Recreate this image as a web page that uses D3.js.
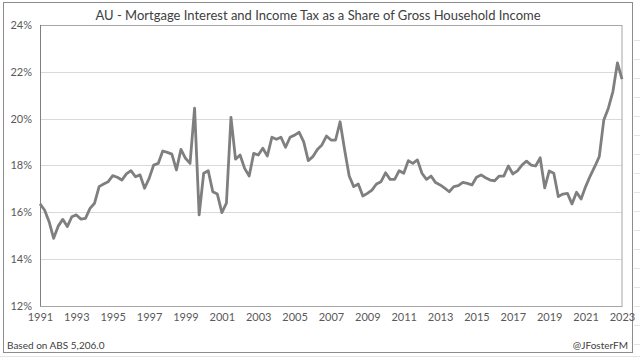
<!DOCTYPE html>
<html><head><meta charset="utf-8">
<script src="https://cdn.jsdelivr.net/npm/d3@7"></script>
<style>body{margin:0;background:#fff}svg{display:block}</style>
</head><body>
<svg id="c" width="640" height="358"></svg>
<script>
const startYear = 1991;
const quarterStep = 0.25;
const shareValues = [
16.35,16.09,15.59,14.88,
15.40,15.69,15.38,15.80,
15.88,15.70,15.73,16.16,
16.38,17.09,17.20,17.30,
17.56,17.49,17.37,17.63,
17.77,17.51,17.59,17.02,
17.44,18.01,18.08,18.61,
18.55,18.48,17.80,18.68,
18.30,18.08,20.44,15.88,
17.66,17.77,16.87,16.77,
15.98,16.38,20.05,18.26,
18.44,17.87,17.54,18.51,
18.44,18.73,18.40,19.20,
19.11,19.20,18.77,19.20,
19.29,19.41,19.00,18.20,
18.37,18.68,18.87,19.25,
19.08,19.08,19.86,18.65,
17.54,17.09,17.20,16.69,
16.80,16.94,17.20,17.30,
17.68,17.40,17.40,17.77,
17.66,18.20,18.08,18.23,
17.66,17.40,17.54,17.26,
17.16,17.02,16.87,17.09,
17.13,17.27,17.23,17.16,
17.49,17.59,17.47,17.37,
17.34,17.54,17.54,17.97,
17.63,17.76,18.01,18.18,
18.01,17.97,18.32,17.04,
17.76,17.66,16.66,16.77,
16.80,16.35,16.85,16.56,
17.09,17.54,17.94,18.37,
19.94,20.44,21.15,22.38,
21.68];
const xTickYears = [1991,1993,1995,1997,1999,2001,2003,2005,2007,2009,2011,2013,2015,2017,2019,2021,2023];
const yTicks = [12,14,16,18,20,22,24];
const titleText = "AU - Mortgage Interest and Income Tax as a Share of Gross Household Income";
const sourceText = "Based on ABS 5,206.0";
const creditText = "@JFosterFM";

const data = shareValues.map((v,i)=>({t:startYear+i*quarterStep, v}));
const svg = d3.select("#c");
const font = "Lato, 'Open Sans', sans-serif";

svg.append("rect").attr("x",0).attr("y",0).attr("width",640).attr("height",358).attr("fill","#fff");
const bg = svg.append("g").attr("stroke","#e4e4e4").attr("stroke-width",1);
[356.5].forEach(y=>bg.append("line").attr("x1",0).attr("x2",640).attr("y1",y).attr("y2",y));
d3.range(40,358,19).forEach(y=>bg.append("line").attr("x1",634).attr("x2",640).attr("y1",y+0.5).attr("y2",y+0.5));
svg.append("rect").attr("x",3.5).attr("y",2.5).attr("width",629).attr("height",350)
  .attr("fill","#fff").attr("stroke","#8c8c8c").attr("stroke-width",1);

const x = d3.scaleLinear().domain([1991,2023]).range([40,622]);
const y = d3.scaleLinear().domain([12,24]).range([305.7,24.9]);

svg.append("g").selectAll("line").data(yTicks.slice(1,-1)).join("line")
  .attr("x1",40).attr("x2",622).attr("y1",d=>Math.round(y(d))+0.5).attr("y2",d=>Math.round(y(d))+0.5)
  .attr("stroke","#d9d9d9").attr("stroke-width",1);
svg.append("rect").attr("x",40.5).attr("y",Math.round(y(24))+0.5).attr("width",581.5)
  .attr("height",Math.round(y(12))-Math.round(y(24))).attr("fill","none").attr("stroke","#a6a6a6");
svg.append("line").attr("x1",40.5).attr("x2",40.5).attr("y1",y(24)).attr("y2",y(12)+0.5).attr("stroke","#7f7f7f");

const yAxis = d3.axisLeft(y).tickValues(yTicks).tickSize(0).tickPadding(8).tickFormat(d=>d+"%");
const ga = svg.append("g").attr("transform","translate(40,0)").call(yAxis);
ga.select(".domain").remove();
ga.selectAll("text").attr("font-family",font).attr("font-size",11).attr("fill","#595959");

const xAxis = d3.axisBottom(x).tickValues(xTickYears).tickSize(0).tickPadding(8).tickFormat(d3.format("d"));
const gx = svg.append("g").attr("transform",`translate(0,${y(12)})`).call(xAxis);
gx.select(".domain").remove();
gx.selectAll("text").attr("font-family",font).attr("font-size",11).attr("fill","#595959");

const line = d3.line().x(d=>x(d.t)).y(d=>y(d.v));
svg.append("path").datum(data).attr("d",line).attr("fill","none")
  .attr("stroke","#7f7f7f").attr("stroke-width",2.8).attr("stroke-linejoin","round");

svg.append("text").attr("x",318).attr("y",20).attr("text-anchor","middle")
  .attr("font-family",font).attr("font-size",13).attr("fill","#404040").text(titleText);
svg.append("text").attr("x",7).attr("y",349).attr("font-family",font).attr("font-size",10)
  .attr("fill","#404040").text(sourceText);
svg.append("text").attr("x",628).attr("y",349).attr("text-anchor","end").attr("font-family",font).attr("font-size",10)
  .attr("fill","#404040").text(creditText);
</script>
</body></html>
